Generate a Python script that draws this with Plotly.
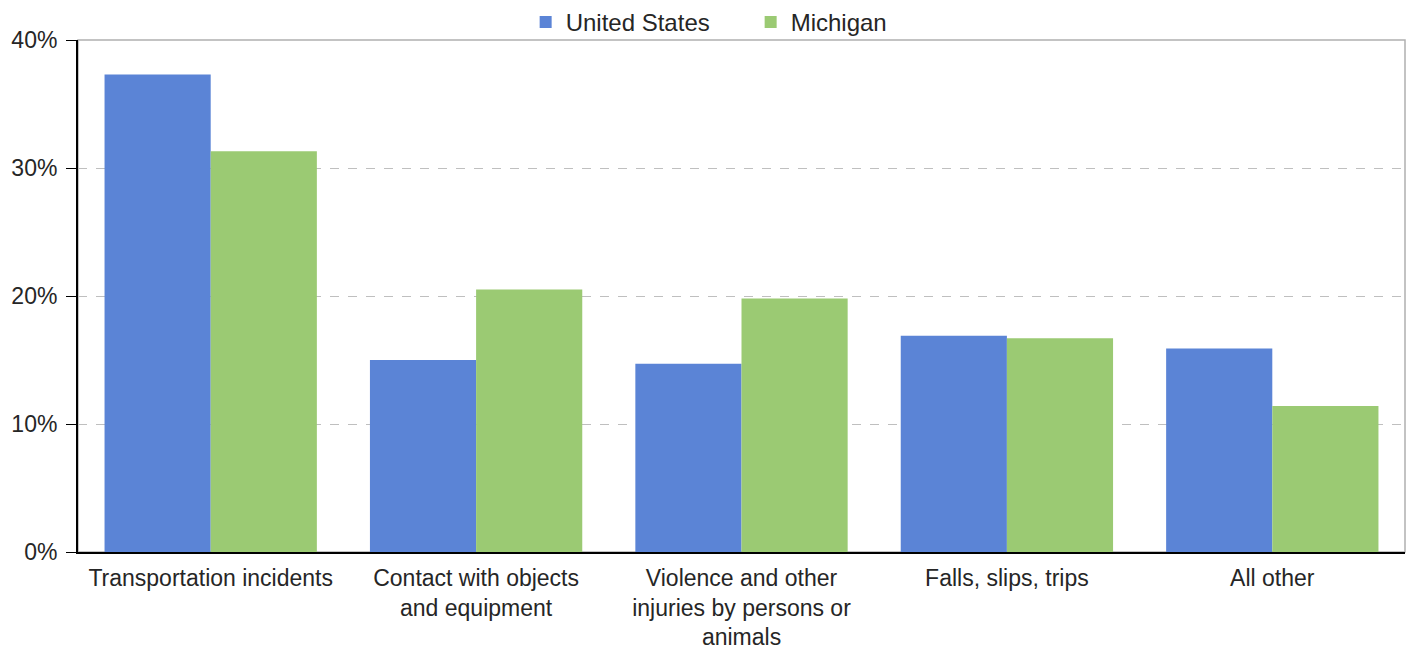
import plotly.graph_objects as go

categories = ["Transportation incidents", "Contact with objects<br>and equipment",
              "Violence and other<br>injuries by persons or<br>animals", "Falls, slips, trips", "All other"]
us_values = [37.3, 15.0, 14.7, 16.9, 15.9]
mi_values = [31.3, 20.5, 19.8, 16.7, 11.4]
tick_vals = [0, 10, 20, 30, 40]
tick_text = ["0%", "10%", "20%", "30%", "40%"]

fig = go.Figure()
fig.add_trace(go.Bar(x=categories, y=us_values, name="United States", marker=dict(color="#5B84D6", line=dict(width=0))))
fig.add_trace(go.Bar(x=categories, y=mi_values, name="Michigan", marker=dict(color="#9BCA73", line=dict(width=0))))

font = "Liberation Sans, Arial, sans-serif"
fig.update_layout(
    width=1411, height=652,
    margin=dict(l=78, r=6, t=40, b=100, autoexpand=False),
    paper_bgcolor="white", plot_bgcolor="white",
    barmode="group", bargap=0.2, bargroupgap=0,
    font=dict(family=font, size=23, color="#262626"),
    showlegend=True,
    legend=dict(orientation="h", xref="container", yref="container", x=0.532, xanchor="center",
                y=1.0, yanchor="top", bgcolor="rgba(0,0,0,0)",
                font=dict(size=24), itemwidth=30, traceorder="normal", entrywidth=180),
    xaxis=dict(showline=True, linecolor="black", linewidth=2, ticks="", showgrid=False,
               tickfont=dict(size=23), ticklabelstandoff=4, automargin=False),
    yaxis=dict(range=[0, 40], tickvals=tick_vals, ticktext=tick_text, showline=True,
               linecolor="black", linewidth=2, ticks="outside", ticklen=10, tickcolor="black",
               showgrid=True, gridcolor="#BFBFBF", griddash="dash", gridwidth=1,
               zeroline=False, tickfont=dict(size=23), ticklabelstandoff=4, automargin=False),
    shapes=[dict(type="rect", xref="paper", yref="paper", x0=0, x1=1, y0=0, y1=1,
                 line=dict(color="#B0B0B0", width=1.5), layer="below")],
)
fig.write_html("out.html", config={"displayModeBar": False})

with open("out.html", "r", encoding="utf-8") as f:
    html = f.read()
html = html.replace("<head>", "<head><style>html,body{margin:0;padding:0;overflow:hidden}</style>", 1)
with open("out.html", "w", encoding="utf-8") as f:
    f.write(html)
